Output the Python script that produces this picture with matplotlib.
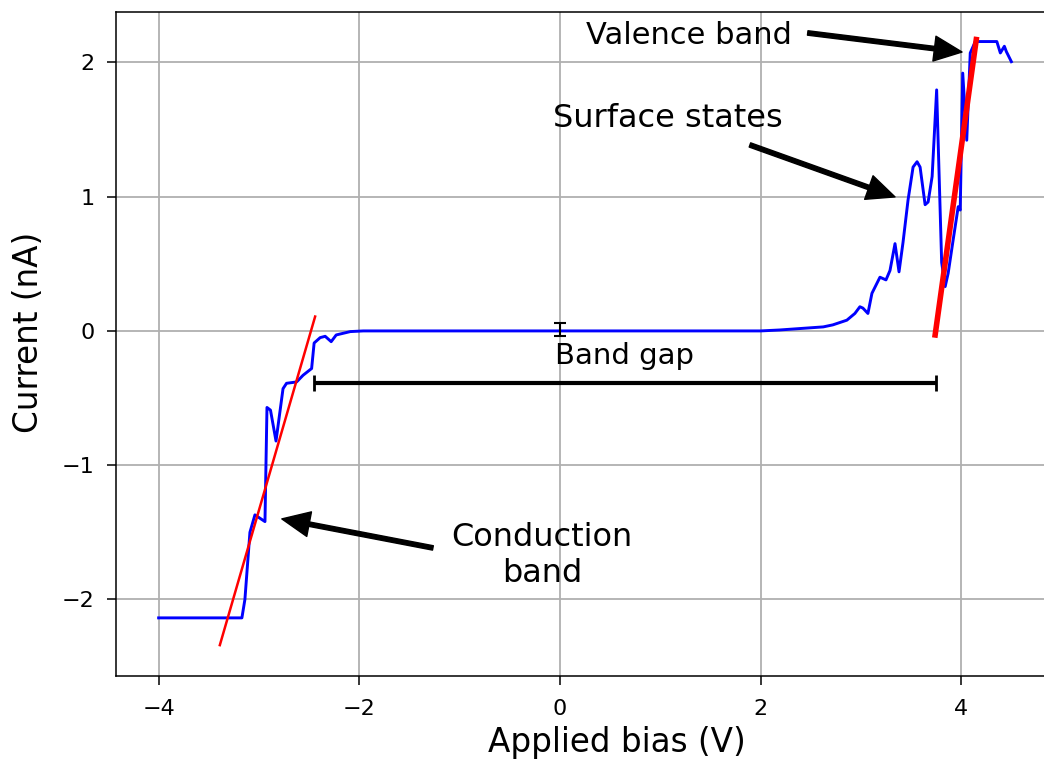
import numpy as np
import matplotlib
matplotlib.use("Agg")
import matplotlib.pyplot as plt

bias = [-4.0, -3.17, -3.14, -3.09, -3.04, -2.94, -2.92, -2.885, -2.83, -2.76,
        -2.725, -2.625, -2.56, -2.475, -2.45, -2.39, -2.34, -2.28, -2.23, -2.09,
        -1.96, -1.0, 0.0, 1.0, 2.0, 2.19, 2.625, 2.72, 2.86, 2.94, 2.99, 3.02,
        3.07, 3.11, 3.19, 3.25, 3.29, 3.34, 3.38, 3.42, 3.47, 3.52, 3.56, 3.59,
        3.64, 3.67, 3.71, 3.755, 3.805, 3.84, 3.87, 3.92, 3.97, 3.99, 4.015,
        4.055, 4.09, 4.14, 4.355, 4.39, 4.43, 4.45, 4.50]
current = [-2.137, -2.137, -2.0, -1.50, -1.37, -1.42, -0.57, -0.59, -0.82, -0.43,
           -0.39, -0.38, -0.33, -0.28, -0.09, -0.05, -0.04, -0.08, -0.03, -0.005,
           0.0, 0.0, 0.0, 0.0, 0.0, 0.007, 0.03, 0.045, 0.08, 0.13, 0.18, 0.17,
           0.13, 0.28, 0.40, 0.38, 0.45, 0.65, 0.44, 0.66, 0.975, 1.22, 1.26, 1.22,
           0.94, 0.96, 1.15, 1.795, 0.51, 0.33, 0.43, 0.68, 0.925, 0.90, 1.92,
           1.42, 2.07, 2.155, 2.155, 2.07, 2.12, 2.08, 2.005]

# linear fits of the band edges
cb_fit_x = [-3.39, -2.44]
cb_fit_y = [-2.34, 0.107]
vb_fit_x = [3.74, 4.15]
vb_fit_y = [-0.03, 2.17]

# noise error bar at zero bias
noise_x, noise_y, noise_err = 0.0, 0.01, 0.05

# band gap bar
gap_start, gap_end, gap_y = -2.45, 3.745, -0.39

# annotations: label, text position, arrow tail, arrow tip
labels = ["Valence band", "Surface states", "Conduction\nband"]
label_pos = [(1.29, 2.2), (1.08, 1.585), (-0.18, -1.67)]
label_size = [22, 23, 23]
arrow_tail = [(2.47, 2.219), (1.894, 1.385), (-1.266, -1.616)]
arrow_tip = [(4.008, 2.077), (3.34, 0.998), (-2.772, -1.40)]

fig = plt.figure(figsize=(10.44, 7.6), dpi=100)
ax = fig.add_axes([0.1111, 0.1105, 0.8985, 0.8737])

ax.plot(bias, current, color="blue", lw=2.1)
ax.plot(cb_fit_x, cb_fit_y, color="red", lw=1.8)
ax.plot(vb_fit_x, vb_fit_y, color="red", lw=4)

ax.errorbar(noise_x, noise_y, yerr=noise_err, color="black", capsize=4.5,
            lw=1.5, capthick=1.5)
gap_mid = (gap_start + gap_end) / 2
ax.errorbar(gap_mid, gap_y, xerr=(gap_end - gap_start) / 2, color="black",
            lw=3, capsize=6, capthick=2)
ax.text(gap_mid, -0.19, "Band gap", ha="center", va="center", fontsize=21)

arrow = dict(facecolor="black", edgecolor="black", width=3.2, headwidth=18,
             headlength=20, shrink=0.0)
for lab, pos, size, tail, tip in zip(labels, label_pos, label_size,
                                     arrow_tail, arrow_tip):
    ax.text(pos[0], pos[1], lab, ha="center", va="center", fontsize=size)
    ax.annotate("", xy=tip, xytext=tail, arrowprops=arrow)

ax.set_xlim(-4.425, 4.925)
ax.set_ylim(-2.57, 2.375)
ax.set_xticks([-4, -2, 0, 2, 4])
ax.set_yticks([-2, -1, 0, 1, 2])
ax.tick_params(labelsize=16, length=6.5, width=1.1)
ax.tick_params(axis="x", pad=10)
ax.tick_params(axis="y", pad=9)
for s in ax.spines.values():
    s.set_linewidth(1.1)
ax.grid(True, lw=1.3)
ax.set_axisbelow(True)
ax.set_xlabel("Applied bias (V)", fontsize=23.5, labelpad=5)
ax.set_ylabel("Current (nA)", fontsize=23.5, labelpad=12)
ax.xaxis.label.set_x(0.534)
ax.yaxis.label.set_y(0.518)

fig.savefig("out.png", dpi=100)
